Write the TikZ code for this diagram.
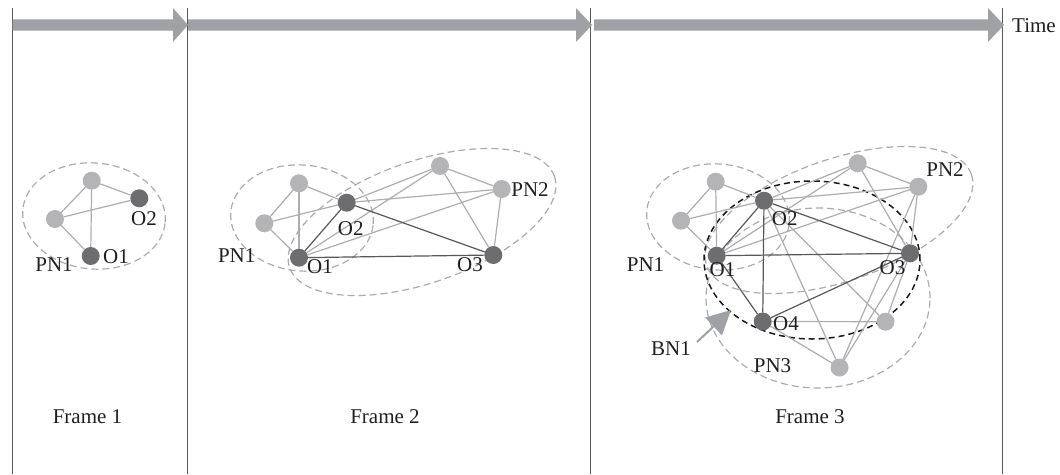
\documentclass[tikz,border=0pt]{standalone}
\usepackage{fontspec}
\setmainfont{Liberation Serif}
\usetikzlibrary{arrows.meta}
\definecolor{arrowgray}{HTML}{A0A1A4}
\definecolor{lightnode}{HTML}{B4B4B6}
\definecolor{darknode}{HTML}{6D6D70}
\definecolor{lightedge}{HTML}{ADADAF}
\definecolor{darkedge}{HTML}{58585A}
\definecolor{dashgray}{HTML}{ABABAD}
\definecolor{framegray}{HTML}{5A5A5A}
\tikzset{
  lnode/.style={circle,fill=lightnode,minimum size=18pt,inner sep=0pt,outer sep=0pt},
  dnode/.style={circle,fill=darknode,minimum size=18pt,inner sep=0pt,outer sep=0pt},
  ledge/.style={draw=lightedge,line width=1.2pt},
  dedge/.style={draw=darkedge,line width=1.2pt},
  pnell/.style={draw=dashgray,line width=1.2pt,dash pattern=on 7pt off 4pt},
  bnell/.style={draw=black!90,line width=1.5pt,dash pattern=on 6pt off 4pt},
  lbl/.style={inner sep=0pt,font=\fontsize{21}{24}\selectfont,text=black!88},
  frameline/.style={draw=framegray,line width=1pt},
  timearrow/.style={fill=arrowgray}
}
\begin{document}
\begin{tikzpicture}[x=1pt,y=-1pt]
\useasboundingbox (0,0) rectangle (1060,474);

% frame separators
\draw[frameline] (12,8) -- (12,474);
\draw[frameline] (187.5,8) -- (187.5,474);
\draw[frameline] (590.5,8) -- (590.5,474);
\draw[frameline] (1002,8) -- (1002,474);

% time arrows
\fill[timearrow] (12.5,19.3) -- (173,19.3) -- (173,8) -- (188,25) -- (173,42) -- (173,30.7) -- (12.5,30.7) -- cycle;
\fill[timearrow] (188,19.3) -- (576,19.3) -- (576,8) -- (592,25) -- (576,42) -- (576,30.7) -- (188,30.7) -- cycle;
\fill[timearrow] (594,19.3) -- (988,19.3) -- (988,8) -- (1004,25) -- (988,42) -- (988,30.7) -- (594,30.7) -- cycle;
\node[lbl,font=\fontsize{21}{24}\selectfont] (time) at (1034,25.8) {Time};

% ---------- ellipses ----------
\draw[pnell] (94,216) ellipse [x radius=71.5pt,y radius=53pt,rotate=-5];
\draw[pnell] (302,218) ellipse [x radius=71.5pt,y radius=53pt,rotate=-5];
\draw[pnell] (422,222) ellipse [x radius=140pt,y radius=61pt,rotate=19];
\draw[pnell] (718,217) ellipse [x radius=71.5pt,y radius=53pt,rotate=-5];
\draw[pnell] (839,220) ellipse [x radius=140pt,y radius=61pt,rotate=19];
\draw[pnell] (818,298) ellipse [x radius=112pt,y radius=90pt];
\draw[bnell] (812,260) ellipse [x radius=108pt,y radius=79pt];

% ---------- Frame 1 ----------
\node[lnode] (a1) at (91.7,180.7) {};
\node[lnode] (b1) at (55,219) {};
\node[dnode] (o21) at (139.3,198.3) {};
\node[dnode] (o11) at (90.7,256) {};
\draw[ledge] (a1) -- (b1);
\draw[ledge] (a1) -- (o21);
\draw[ledge] (a1) -- (o11);
\draw[ledge] (b1) -- (o21);
\draw[ledge] (b1) -- (o11);
\node[lbl] (lo21) at (144,219) {O2};
\node[lbl] (lo11) at (116,256.7) {O1};
\node[lbl] (lpn11) at (54,265) {PN1};
\node[lbl] (lf1) at (87.5,417) {Frame 1};

% ---------- Frame 2 ----------
\node[lnode] (a2) at (299,183.3) {};
\node[lnode] (b2) at (264.3,223.3) {};
\node[dnode] (o22) at (346.7,202.7) {};
\node[dnode] (o12) at (299,257.7) {};
\node[lnode] (c2) at (440,166) {};
\node[lnode] (d2) at (501.7,189) {};
\node[dnode] (o32) at (493.3,255) {};
\draw[ledge] (a2) -- (b2);
\draw[ledge] (a2) -- (o12);
\draw[ledge] (a2) -- (o22);
\draw[ledge] (b2) -- (o12);
\draw[ledge] (b2) -- (o22);
\draw[ledge] (o22) -- (c2);
\draw[ledge] (o22) -- (d2);
\draw[ledge] (o12) -- (c2);
\draw[ledge] (o12) -- (d2);
\draw[ledge] (c2) -- (d2);
\draw[ledge] (c2) -- (o32);
\draw[ledge] (d2) -- (o32);
\draw[dedge] (o12) -- (o22);
\draw[dedge] (o22) -- (o32);
\draw[dedge] (o12) -- (o32);
\node[lbl] (lpn12) at (236.7,255.7) {PN1};
\node[lbl] (lo12) at (320,266.7) {O1};
\node[lbl] (lo22) at (350.8,229) {O2};
\node[lbl] (lo32) at (470,265) {O3};
\node[lbl] (lpn22) at (530,190) {PN2};
\node[lbl] (lf2) at (385,417) {Frame 2};

% ---------- Frame 3 ----------
\node[lnode] (a3) at (715.7,181.7) {};
\node[lnode] (b3) at (681,220.7) {};
\node[dnode] (o23) at (764,200.7) {};
\node[dnode] (o13) at (716.7,255.7) {};
\node[lnode] (c3) at (857.7,163.3) {};
\node[lnode] (d3) at (918.3,186.7) {};
\node[dnode] (o33) at (910,253.3) {};
\node[dnode] (o43) at (762.7,321.5) {};
\node[lnode] (e3) at (885.5,321.7) {};
\node[lnode] (f3) at (839.5,367.5) {};
\draw[ledge] (a3) -- (b3);
\draw[ledge] (a3) -- (o13);
\draw[ledge] (a3) -- (o23);
\draw[ledge] (b3) -- (o13);
\draw[ledge] (b3) -- (o23);
\draw[ledge] (o23) -- (c3);
\draw[ledge] (o23) -- (d3);
\draw[ledge] (o13) -- (c3);
\draw[ledge] (o13) -- (d3);
\draw[ledge] (c3) -- (d3);
\draw[ledge] (c3) -- (o33);
\draw[ledge] (d3) -- (o33);
\draw[ledge] (o23) -- (e3);
\draw[ledge] (o23) -- (f3);
\draw[ledge] (o33) -- (e3);
\draw[ledge] (o33) -- (f3);
\draw[ledge] (d3) -- (f3);
\draw[ledge] (o43) -- (e3);
\draw[ledge] (o43) -- (f3);
\draw[dedge] (o13) -- (o23);
\draw[dedge] (o13) -- (o33);
\draw[dedge] (o23) -- (o33);
\draw[dedge] (o13) -- (o43);
\draw[dedge] (o23) -- (o43);
\draw[dedge] (o33) -- (o43);
\node[lbl] (lpn13) at (645.5,265) {PN1};
\node[lbl] (lo13) at (722.5,269.5) {O1};
\node[lbl] (lo23) at (784.7,219) {O2};
\node[lbl] (lo33) at (892.5,268) {O3};
\node[lbl] (lo43) at (786,323.5) {O4};
\node[lbl] (lpn23) at (945,170) {PN2};
\node[lbl] (lbn1) at (671,349) {BN1};
\node[lbl] (lpn33) at (772.5,366) {PN3};
\node[lbl] (lf3) at (810,417) {Frame 3};

% BN1 pointer
\coordinate (bnfrom) at (697,342);
\coordinate (bnto) at (731,310);
\draw[draw=arrowgray,line width=2pt,-{Triangle[length=24pt,width=24pt]}] (bnfrom) -- (bnto);
\end{tikzpicture}
\end{document}
